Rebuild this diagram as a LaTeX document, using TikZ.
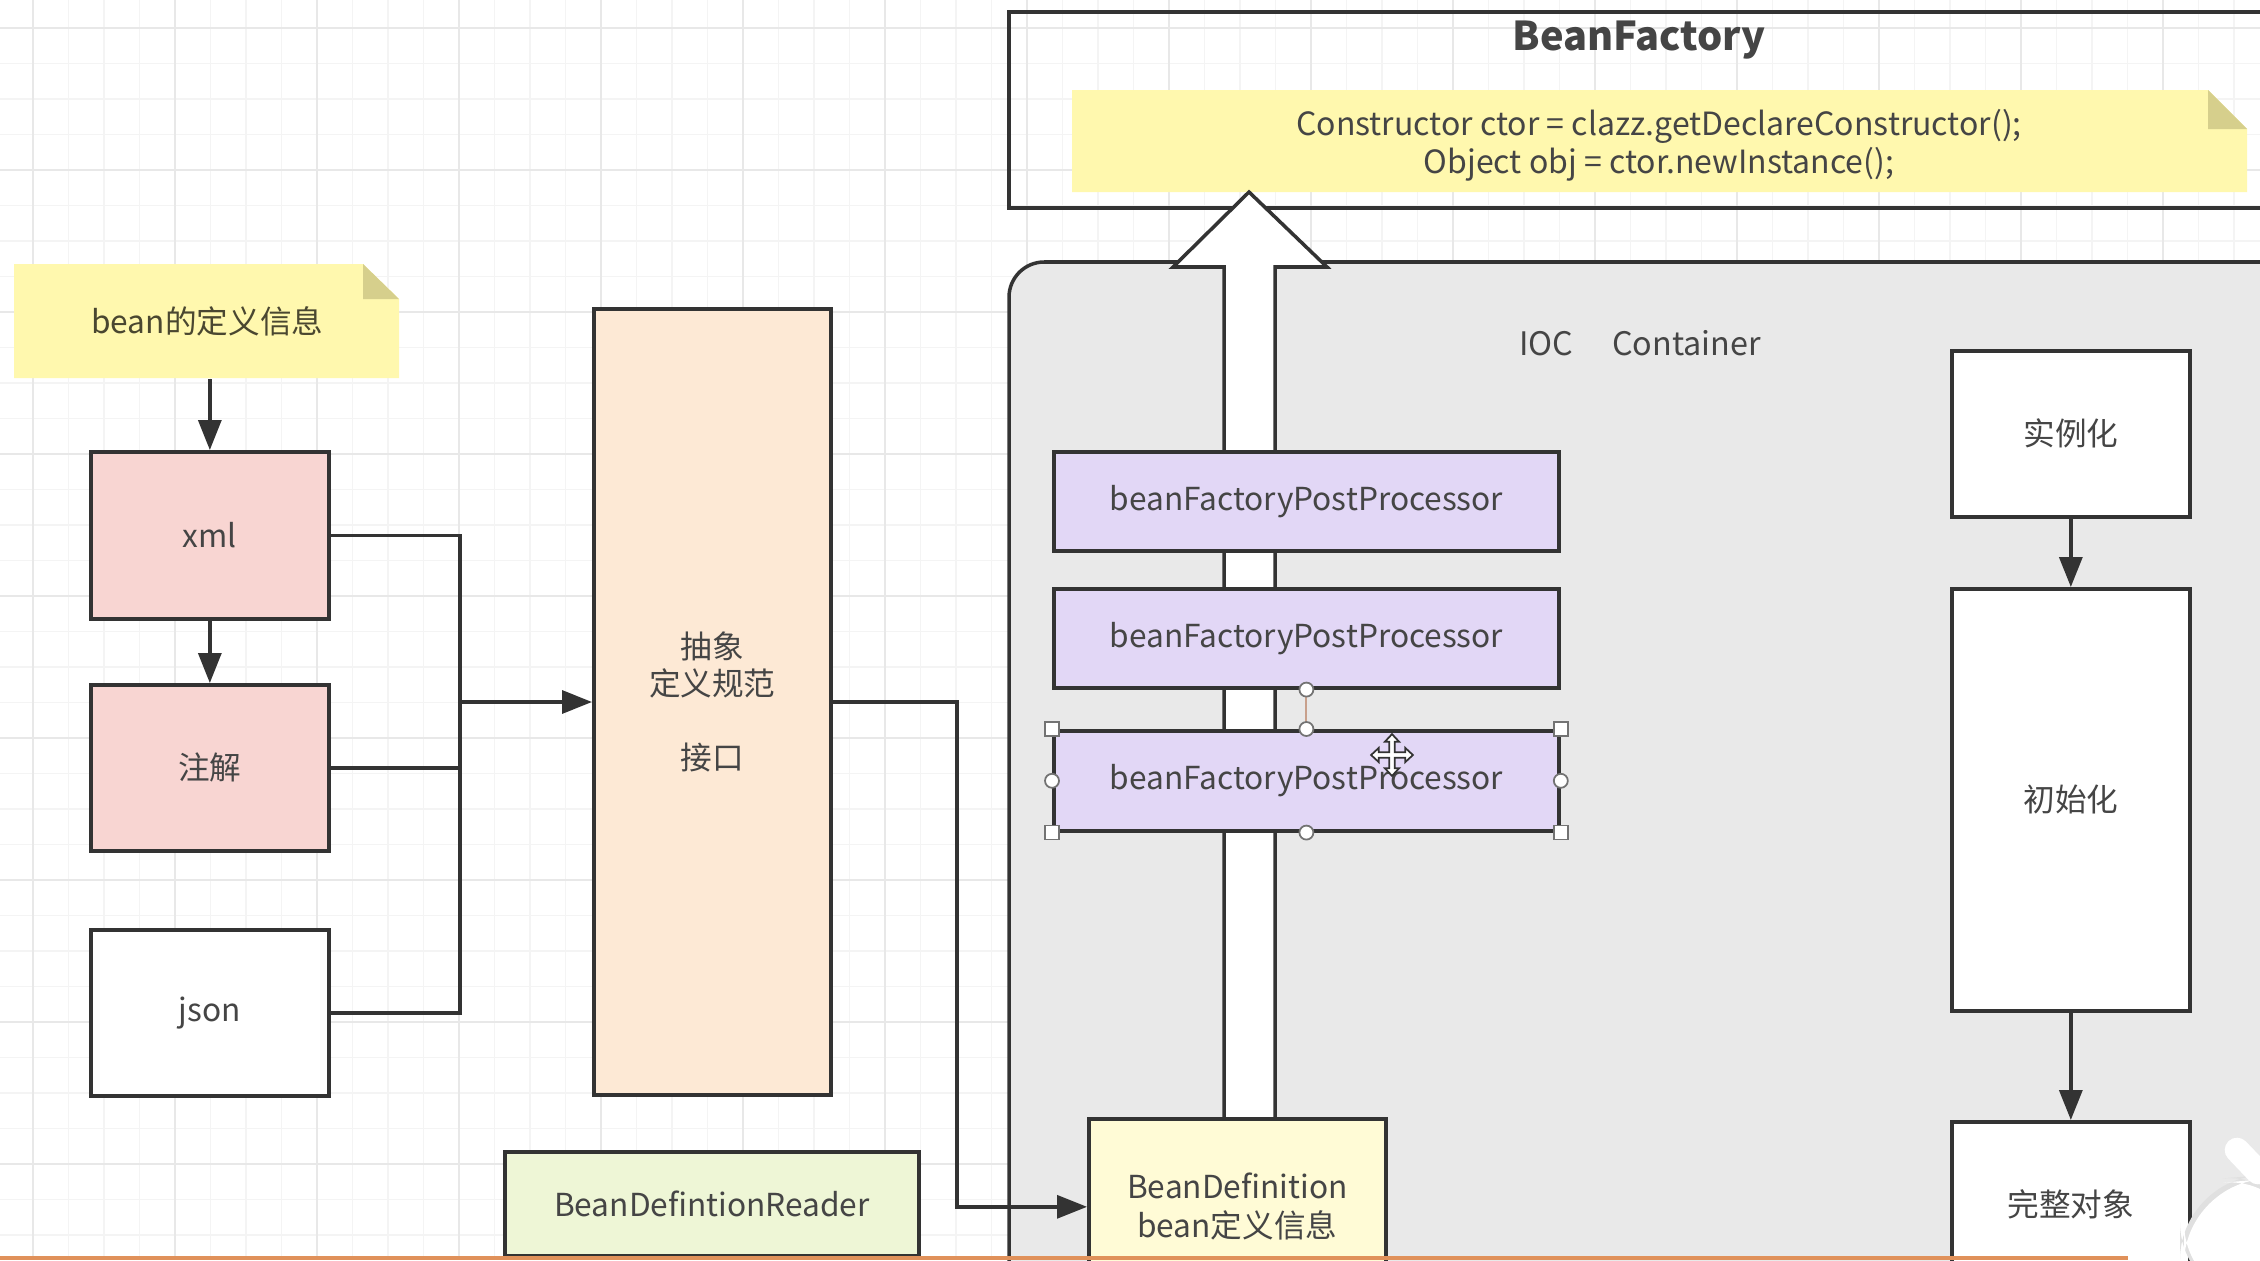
\documentclass[tikz,border=0pt]{standalone}
\usepackage{fontspec}
\setmainfont{Noto Sans CJK SC}
\usetikzlibrary{arrows.meta}
\definecolor{gridminor}{HTML}{F4F4F4}
\definecolor{gridmajor}{HTML}{E8E8E8}
\definecolor{linec}{HTML}{333333}
\definecolor{textc}{HTML}{454545}
\definecolor{pinkc}{HTML}{F8D5D2}
\definecolor{peachc}{HTML}{FDE9D5}
\definecolor{greenc}{HTML}{EEF6D6}
\definecolor{notec}{HTML}{FFF8AE}
\definecolor{foldc}{HTML}{D6CF8C}
\definecolor{notetext}{HTML}{4A4730}
\definecolor{purplec}{HTML}{E2D7F6}
\definecolor{containerc}{HTML}{E9E9E9}
\definecolor{bdc}{HTML}{FFFBD6}
\definecolor{selc}{HTML}{C8A08C}
\definecolor{barc}{HTML}{E0915A}
\begin{document}
\begin{tikzpicture}[x=0.01cm,y=-0.01cm,
  lbl/.style={font=\fontsize{9}{10.5}\selectfont, text=textc, align=center},
  box/.style={lbl, draw=linec, line width=1pt, inner sep=0pt, anchor=north west},
  conn/.style={draw=linec, line width=1pt},
  arr/.style={conn, -{Triangle[length=8.5pt,width=6.5pt]}},
  handle/.style={fill=white, draw=black!55, line width=0.5pt},
  gmin/.style={draw=gridminor, line width=0.4pt},
  gmaj/.style={draw=gridmajor, line width=0.5pt}]
\useasboundingbox (0,0) rectangle (2260,1260);
\fill[white] (0,0) rectangle (2260,1260);
% grid
\foreach \i in {0,...,64} \draw[gmin] ({-2.5+35.5*\i},0) -- ({-2.5+35.5*\i},1260);
\foreach \i in {0,...,36} \draw[gmin] (0,{-7.5+35.5*\i}) -- (2260,{-7.5+35.5*\i});
\foreach \k in {0,...,15} \draw[gmaj] ({33+142*\k},0) -- ({33+142*\k},1260);
\foreach \k in {0,...,8} \draw[gmaj] (0,{28+142*\k}) -- (2260,{28+142*\k});

% IOC container
\fill[containerc, rounded corners=10] (1009,1300) -- (1009,262) -- (2300,262) -- (2300,1300) -- cycle;
\draw[linec, line width=1pt, rounded corners=10] (1009,1300) -- (1009,262) -- (2300,262);
\node[lbl, font=\fontsize{9.2}{10.5}\selectfont] (ioc) at (1640,343) {IOC\hspace{11pt}Container};

% BeanFactory
\draw[linec, line width=1pt] (2300,12) -- (1009,12) -- (1009,208) -- (2300,208);
\node[font=\bfseries\fontsize{11.3}{13}\selectfont, text=textc] (bftitle) at (1639,40) {BeanFactory};
\fill[notec] (1072,90) -- (2208,90) -- (2247,129) -- (2247,192) -- (1072,192) -- cycle;
\fill[foldc] (2208,90) -- (2208,129) -- (2247,129) -- cycle;
\node[lbl, font=\fontsize{9.1}{10.8}\selectfont] (code) at (1659,145)
  {Constructor ctor = clazz.getDeclareConstructor();\\Object obj = ctor.newInstance();};

% big hollow arrow
\filldraw[fill=white, draw=linec, line width=1pt, line join=miter]
  (1224,1125) -- (1224,267) -- (1173,267) -- (1249,192) -- (1327,267) -- (1275,267) -- (1275,1125);

% post processors
\node[box, fill=purplec, minimum width=5.05cm, minimum height=0.99cm] (p1) at (1052,450) {beanFactoryPostProcessor};
\node[box, fill=purplec, minimum width=5.05cm, minimum height=0.99cm] (p2) at (1052,587) {beanFactoryPostProcessor};
\node[box, fill=purplec, minimum width=5.05cm, minimum height=1.00cm] (p3) at (1052,729) {beanFactoryPostProcessor};
\draw[selc, line width=0.6pt] (p2.south) -- (p3.north);
\foreach \a in {north west, north east, south west, south east}
  \filldraw[handle] ([shift={(-7,-7)}]p3.\a) rectangle ([shift={(7,7)}]p3.\a);
\foreach \a in {north, south, west, east}
  \filldraw[handle] (p3.\a) circle (7);
\filldraw[handle] (p2.south) circle (7);
% move cursor
\begin{scope}[shift={(1392,755)}, scale=1.1]
\filldraw[fill=white, draw=black!80, line width=0.5pt]
  (2.5,-2.5) -- (12,-2.5) -- (12,-6.5) -- (19,0) -- (12,6.5) -- (12,2.5) -- (2.5,2.5)
  -- (2.5,12) -- (6.5,12) -- (0,19) -- (-6.5,12) -- (-2.5,12) -- (-2.5,2.5)
  -- (-12,2.5) -- (-12,6.5) -- (-19,0) -- (-12,-6.5) -- (-12,-2.5) -- (-2.5,-2.5)
  -- (-2.5,-12) -- (-6.5,-12) -- (0,-19) -- (6.5,-12) -- (2.5,-12) -- cycle;
\end{scope}

% BeanDefinition
\node[box, fill=bdc, minimum width=2.97cm, minimum height=1.76cm, font=\fontsize{9}{11}\selectfont] (bd) at (1087,1117) {BeanDefinition\\bean定义信息};

% right column
\node[box, fill=white, minimum width=2.38cm, minimum height=1.66cm] (inst) at (1950,349) {实例化};
\node[box, fill=white, minimum width=2.38cm, minimum height=4.22cm] (init) at (1950,587) {初始化};
\node[box, fill=white, minimum width=2.38cm, minimum height=1.66cm] (full) at (1950,1120) {完整对象};
\draw[arr] (inst.south) -- (init.north);
\draw[arr] (init.south) -- (full.north);

% left side
\fill[notec] (14,264) -- (363,264) -- (399,299) -- (399,378) -- (14,378) -- cycle;
\fill[foldc] (363,264) -- (363,299) -- (399,299) -- cycle;
\node[lbl, text=notetext, anchor=north west, minimum width=3.85cm, minimum height=1.14cm, inner sep=0pt] (note) at (14,264) {bean的定义信息};
\node[box, fill=pinkc, minimum width=2.38cm, minimum height=1.67cm] (xml) at (89,450) {xml};
\node[box, fill=pinkc, minimum width=2.38cm, minimum height=1.66cm] (anno) at (89,683) {注解};
\node[box, fill=white, minimum width=2.38cm, minimum height=1.66cm] (json) at (89,928) {json};
\node[box, fill=peachc, minimum width=2.37cm, minimum height=7.86cm] (abs) at (592,307) {抽象\\定义规范\\[10.5pt]接口};
\node[box, fill=greenc, minimum width=4.14cm, minimum height=1.04cm] (reader) at (503,1150) {BeanDefintionReader};

\coordinate (jx) at (460,0);
\coordinate (kx) at (957,0);
\draw[arr] (note.south -| xml.north) -- (xml.north);
\draw[arr] (xml.south) -- (anno.north);
\draw[conn] (xml.east) -- (xml.east -| jx) -- (json.east -| jx) -- (json.east);
\draw[conn] (anno.east) -- (anno.east -| jx);
\draw[arr] (abs.west -| jx) -- (abs.west);
\draw[arr] (abs.east) -- (abs.east -| kx) |- (bd.west);

% overlay bits at the bottom
\fill[barc] (0,1256) rectangle (2128,1260);
\fill[black!12, rounded corners=22] (2180,1300) -- (2180,1182) -- (2300,1172) -- (2300,1300) -- cycle;
\fill[white, rounded corners=22] (2184,1300) -- (2184,1186) -- (2300,1176) -- (2300,1300) -- cycle;
\draw[white, line width=7pt, line cap=round] (2237,1150) -- (2258,1172);
\end{tikzpicture}
\end{document}
